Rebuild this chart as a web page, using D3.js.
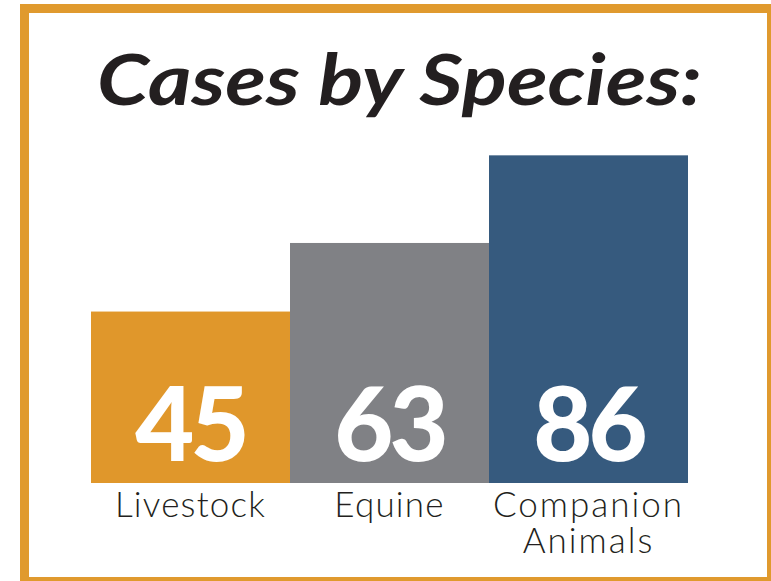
<!DOCTYPE html>
<html><head><meta charset="utf-8">
<script src="https://cdn.jsdelivr.net/npm/d3@7"></script>
<style>html,body{margin:0;padding:0;background:#fff;}svg{display:block;}</style>
</head><body>
<svg id="chart" width="771" height="581"></svg>
<script>
const categories = ["Livestock", "Equine", "Companion Animals"];
const values = [45, 63, 86];
const colors = ["#E0972B", "#808185", "#365A7E"];
const title = "Cases by Species:";

const svg = d3.select("#chart");

// frame
svg.append("rect").attr("x", 24.5).attr("y", 8.5).attr("width", 747).attr("height", 573)
  .attr("fill", "#fff").attr("stroke", "#E09A2E").attr("stroke-width", 9);

// title
svg.append("text").attr("x", 399.5).attr("y", 105).attr("text-anchor", "middle")
  .attr("font-family", "Lato, 'DejaVu Sans', sans-serif").attr("font-weight", 700)
  .attr("font-style", "italic").attr("font-size", 70).attr("fill", "#231F20")
  .attr("textLength", 605).attr("lengthAdjust", "spacingAndGlyphs")
  .text(title);

const x = d3.scaleBand().domain(categories).range([91, 688]).padding(0);
const y = d3.scaleLinear().domain([0, 100]).range([483, 102]);

const g = svg.append("g");
g.selectAll("rect.bar").data(categories).join("rect").attr("class", "bar")
  .attr("x", d => x(d)).attr("width", x.bandwidth())
  .attr("y", (d, i) => y(values[i])).attr("height", (d, i) => y(0) - y(values[i]))
  .attr("fill", (d, i) => colors[i]);

g.selectAll("text.val").data(categories).join("text").attr("class", "val")
  .attr("x", d => x(d) + x.bandwidth() / 2).attr("y", y(0) - 22)
  .attr("text-anchor", "middle").attr("fill", "#fff")
  .attr("font-family", "Lato, 'DejaVu Sans', sans-serif").attr("font-weight", 900)
  .attr("font-size", 102).attr("letter-spacing", -4)
  .text((d, i) => values[i]);

// category labels (x axis without line/ticks)
const axis = d3.axisBottom(x).tickSize(0).tickPadding(0);
const ax = svg.append("g").attr("transform", `translate(0,${y(0)})`).call(axis);
ax.select(".domain").remove();
ax.selectAll(".tick text").each(function(d) {
  const t = d3.select(this);
  t.text(null).attr("y", 0).attr("dy", null)
    .attr("font-family", "Lato, 'DejaVu Sans', sans-serif").attr("font-weight", 300)
    .attr("font-size", 35).attr("fill", "#231F20")
    .attr("letter-spacing", d.length > 12 ? 2 : 1.2);
  const words = d.split(" ");
  words.forEach((w, k) => {
    t.append("tspan").attr("x", 0).attr("y", 34 + k * 36).text(w);
  });
});
</script>
</body></html>
